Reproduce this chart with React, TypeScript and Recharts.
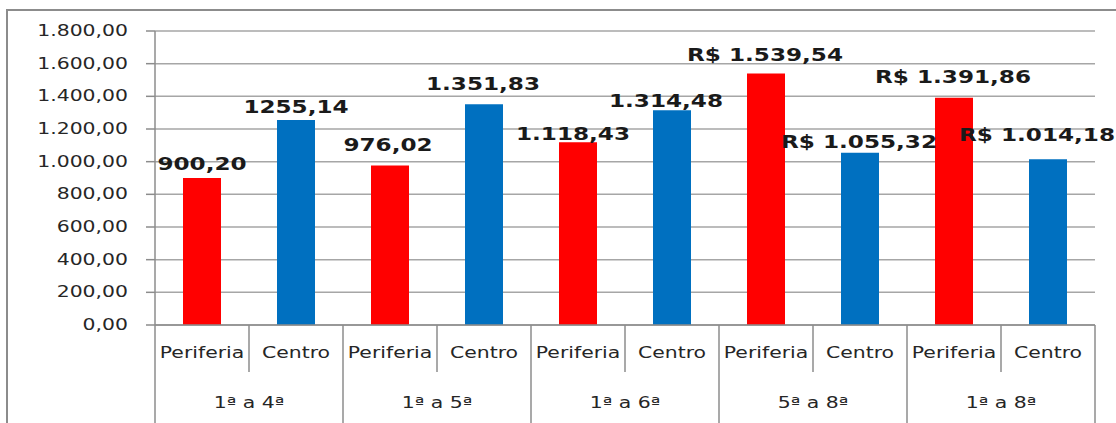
import React from "react";
import { BarChart, Bar, XAxis, YAxis, CartesianGrid, Cell, LabelList } from "recharts";

// series values per category (R$)
const places = ["Periferia", "Centro", "Periferia", "Centro", "Periferia", "Centro", "Periferia", "Centro", "Periferia", "Centro"];
const groups = ["1ª a 4ª", "1ª a 5ª", "1ª a 6ª", "5ª a 8ª", "1ª a 8ª"];
const values = [900.2, 1255.14, 976.02, 1351.83, 1118.43, 1314.48, 1539.54, 1055.32, 1391.86, 1014.18];
const valueLabels = ["900,20", "1255,14", "976,02", "1.351,83", "1.118,43", "1.314,48", "R$ 1.539,54", "R$ 1.055,32", "R$ 1.391,86", "R$ 1.014,18"];
const yTicks = [0, 200, 400, 600, 800, 1000, 1200, 1400, 1600, 1800];

// label nudges as placed in the original sheet
const labelLift = [8, 7, 15, 14, 2, 3, 13, 5, 15, 18];
const labelShift = [0, 0, -2, -1, -5, -6, -1, -1, -1, -11];

const RED = "#ff0000";
const BLUE = "#0070c0";
const LINE = "#8c8c8c";
const FONT = "'DejaVu Sans', Verdana, sans-serif";
const SX = 1.36; // the source picture is stretched horizontally

const W = 1116;
const H = 423;
const AXIS_H = 98;
const PLOT_W = 940;

const data = places.map((p, i) => ({
  name: `${p}-${i}`,
  place: p,
  group: groups[Math.floor(i / 2)],
  value: values[i],
  label: valueLabels[i],
}));

function fmt(v: number) {
  const s = Math.round(v).toString().replace(/\B(?=(\d{3})+(?!\d))/g, ".");
  return s + ",00";
}

function YTick(props: any) {
  const { x, y, payload } = props;
  return (
    <g transform={`translate(${x},${y + 5}) scale(${SX},1)`}>
      <text textAnchor="end" fontFamily={FONT} fontSize={15} fill="#262626">
        {fmt(payload.value)}
      </text>
    </g>
  );
}

function XTick(props: any) {
  const { x, y, payload } = props;
  const i: number = payload.index ?? 0;
  const half: number = payload.offset || PLOT_W / places.length / 2;
  const left = x - half;
  const right = x + half;
  return (
    <g>
      {i % 2 === 0 ? (
        <line x1={left} x2={left} y1={y} y2={y + AXIS_H} stroke={LINE} strokeWidth={1.5} />
      ) : (
        <line x1={left} x2={left} y1={y} y2={y + 47} stroke={LINE} strokeWidth={1.5} />
      )}
      {i === places.length - 1 && (
        <line x1={right} x2={right} y1={y} y2={y + AXIS_H} stroke={LINE} strokeWidth={1.5} />
      )}
      <g transform={`translate(${x},${y + 33}) scale(${SX},1)`}>
        <text textAnchor="middle" fontFamily={FONT} fontSize={15} fill="#262626">
          {places[i]}
        </text>
      </g>
      {i % 2 === 0 && (
        <g transform={`translate(${right},${y + 83}) scale(${SX},1)`}>
          <text textAnchor="middle" fontFamily={FONT} fontSize={15} fill="#262626">
            {groups[i / 2]}
          </text>
        </g>
      )}
    </g>
  );
}

function ValueLabel(props: any) {
  const { x, y, width, value } = props;
  let i: number = typeof props.index === "number" ? props.index : valueLabels.indexOf(value);
  if (i < 0) i = 0;
  const cx = Number(x) + Number(width) / 2 + labelShift[i];
  const by = Number(y) - labelLift[i];
  return (
    <g transform={`translate(${cx},${by}) scale(${SX},1)`}>
      <text textAnchor="middle" fontFamily={FONT} fontSize={17} fontWeight="bold" fill="#1a1a1a">
        {value}
      </text>
    </g>
  );
}

export default function App() {
  return (
    <div style={{ position: "absolute", left: 0, top: 0, width: W, height: H, overflow: "hidden", background: "#fff" }}>
      <div
        style={{
          position: "absolute",
          left: 6,
          top: 9,
          width: W + 50,
          height: H + 50,
          border: `2px solid ${LINE}`,
        }}
      />
      <div style={{ position: "absolute", left: 0, top: 0 }}>
        <BarChart width={W} height={H} data={data} margin={{ top: 31, right: 21, left: 0, bottom: 0 }} barSize={38}>
          <CartesianGrid vertical={false} stroke="#a6a6a6" strokeWidth={1.5} />
          <XAxis
            dataKey="name"
            height={AXIS_H}
            tickLine={false}
            tickSize={0}
            tickMargin={0}
            interval={0}
            axisLine={{ stroke: LINE, strokeWidth: 1.5 }}
            tick={<XTick />}
          />
          <YAxis
            width={155}
            domain={[0, 1800]}
            ticks={yTicks}
            interval={0}
            tickSize={9}
            tickMargin={18}
            tickLine={{ stroke: LINE, strokeWidth: 1.5 }}
            axisLine={{ stroke: LINE, strokeWidth: 1.5 }}
            tick={<YTick />}
          />
          <Bar dataKey="value" isAnimationActive={false}>
            {data.map((d, i) => (
              <Cell key={i} fill={d.place === "Periferia" ? RED : BLUE} />
            ))}
            <LabelList dataKey="label" content={<ValueLabel />} />
          </Bar>
        </BarChart>
      </div>
    </div>
  );
}
